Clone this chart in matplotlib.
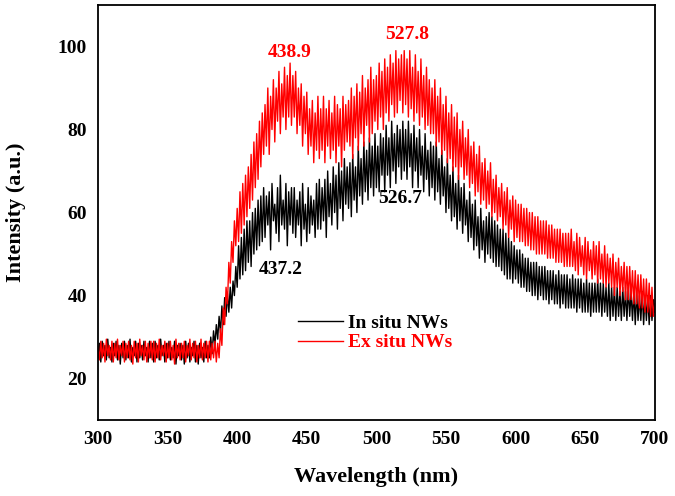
import numpy as np
import matplotlib
matplotlib.use("Agg")
import matplotlib.pyplot as plt

# wavelength grid (nm), 1 nm step
wavelength = np.arange(300, 701, 1)

# In situ NWs (black), 20 nm per row
in_situ = [
    25, 28.5, 24, 29, 25.5, 28, 24.5, 29.5, 25, 27.5, 24, 28.5, 25.5, 29, 24.5, 28, 23.5, 28.5, 25, 29,
    24.5, 28, 25, 29.5, 24, 27.5, 25.5, 29, 24, 28.5, 25, 28, 24.5, 29, 25.5, 27.5, 24, 29, 25, 28.5,
    24, 29, 25, 28, 24.5, 29.5, 25.5, 28, 24, 28.5, 25, 29, 24.5, 27.5, 25, 29, 23.5, 28, 25.5, 28.5,
    24.5, 28, 23.5, 29, 25, 28.5, 24, 27.5, 25.5, 29, 24, 28, 23.5, 28.5, 25, 27.5, 24, 29, 25, 28,
    25, 30, 26, 31.5, 28, 33, 29.5, 35, 31, 37.5, 33, 39.5, 35, 40.5, 36, 42, 37, 43.5, 40, 47,
    42, 52, 44, 54, 45, 56, 46, 58, 48, 58, 47, 60, 50, 61, 51, 63, 52, 64, 53, 66,
    54, 64, 57, 65, 51, 67, 58, 62, 55, 66, 53, 69, 57, 63, 56, 67, 52, 65, 57, 66,
    55, 66, 54, 63, 57, 65, 52, 67, 56, 62, 53, 66, 55, 64, 57, 63, 54, 67, 56, 68,
    56, 66, 58, 68, 54, 70, 59, 67, 57, 71, 60, 69, 56, 72, 61, 70, 58, 73, 62, 71,
    61, 72, 59, 74, 63, 71, 60, 76, 64, 73, 62, 77, 65, 75, 63, 78, 66, 76, 64, 79,
    66, 76, 65, 79, 69, 78, 65, 81, 69, 78, 66, 82, 70, 79, 67, 81, 71, 80, 68, 82,
    70, 80, 68, 82, 71, 79, 66, 81, 70, 78, 66, 80, 69, 76, 65, 79, 68, 75, 64, 77,
    66, 76, 63, 77, 65, 73, 62, 75, 64, 71, 60, 73, 61, 69, 58, 71, 59, 67, 56, 69,
    58, 66, 55, 67, 57, 63, 53, 65, 54, 62, 51, 63, 52, 59, 49, 61, 51, 58, 48, 59,
    50, 60, 49, 59, 48, 58, 47, 57, 47, 56, 46, 56, 45, 55, 44, 54, 44, 53, 43, 52,
    44, 51, 43, 51, 42, 50, 42, 49, 41, 49, 41, 48, 40, 48, 40, 48, 39, 47, 40, 47,
    39, 47, 39, 46, 38, 46, 39, 46, 38, 45, 38, 46, 37, 45, 38, 45, 37, 45, 37, 44,
    37, 45, 37, 44, 36, 44, 37, 44, 36, 43, 36, 44, 36, 43, 35, 43, 36, 43, 36, 44,
    36, 43, 35, 43, 36, 42, 35, 43, 34, 42, 35, 42, 34, 42, 35, 41, 34, 42, 35, 41,
    34, 42, 35, 41, 34, 41, 33, 41, 34, 40, 34, 41, 33, 40, 34, 40, 33, 40, 34, 39,
    36,
]

# Ex situ NWs (red)
ex_situ = [
    27.5, 24.5, 29, 25, 28.5, 24, 29.5, 25.5, 28, 24.5, 29, 24, 28.5, 25, 29.5, 24.5, 28, 25.5, 29, 24,
    28.5, 25, 29, 24.5, 28, 23.5, 29, 25, 28.5, 24, 29.5, 25.5, 28, 24.5, 29, 24, 28.5, 25, 29, 24.5,
    29, 24, 28.5, 25, 29.5, 24.5, 28, 25.5, 29, 24, 28.5, 25, 29, 24.5, 28, 23.5, 29.5, 25, 28.5, 24.5,
    28.5, 25, 29, 24, 28, 25.5, 29.5, 24.5, 28.5, 25, 29, 24, 28, 25, 29.5, 24.5, 28.5, 25, 29, 24,
    29, 24.5, 28.5, 25, 29, 24, 28.5, 25, 32, 28, 37, 33, 42, 38, 48, 43, 53, 48, 58, 52,
    61, 53, 65, 55, 67, 57, 69, 59, 71, 61, 74, 63, 77, 66, 79, 68, 82, 71, 84, 74,
    86, 76, 90, 74, 88, 80, 92, 77, 90, 82, 94, 79, 91, 83, 95, 80, 93, 83, 96, 81,
    93, 83, 94, 79, 90, 81, 91, 76, 88, 79, 89, 74, 85, 76, 87, 72, 84, 75, 88, 73,
    85, 75, 88, 72, 85, 76, 87, 73, 84, 75, 88, 72, 86, 76, 85, 71, 88, 75, 86, 77,
    87, 76, 90, 73, 88, 78, 91, 75, 89, 79, 93, 76, 90, 81, 92, 77, 95, 79, 92, 82,
    93, 80, 96, 83, 94, 80, 97, 84, 95, 82, 98, 86, 96, 83, 99, 84, 97, 87, 98, 84,
    99, 86, 97, 83, 99, 85, 95, 82, 98, 84, 94, 81, 97, 83, 93, 80, 95, 81, 92, 79,
    90, 79, 92, 76, 88, 77, 90, 74, 86, 75, 88, 72, 84, 73, 86, 70, 83, 71, 84, 68,
    80, 71, 82, 68, 78, 69, 80, 66, 76, 67, 77, 64, 74, 65, 76, 62, 72, 63, 73, 61,
    70, 62, 72, 59, 68, 60, 69, 58, 66, 59, 67, 56, 65, 57, 66, 54, 63, 56, 64, 53,
    63, 54, 62, 53, 62, 53, 61, 52, 61, 52, 60, 51, 60, 51, 59, 50, 59, 50, 58, 50,
    58, 50, 58, 49, 57, 49, 57, 49, 56, 48, 56, 48, 56, 48, 55, 47, 55, 47, 55, 47,
    56, 47, 53, 46, 55, 45, 54, 47, 52, 45, 54, 44, 53, 46, 51, 44, 53, 45, 52, 43,
    53, 44, 50, 43, 52, 42, 50, 43, 49, 42, 50, 40, 48, 42, 49, 40, 47, 41, 48, 39,
    47, 39, 47, 39, 46, 38, 46, 38, 45, 37, 45, 37, 44, 36, 44, 36, 43, 35, 42, 35,
    38,
]

peak_labels = ["438.9", "527.8", "526.7", "437.2"]
peak_pos = [(438, 98.6), (522, 103), (517, 63.4), (431, 46.3)]
peak_colors = ["red", "red", "black", "black"]

plt.rcParams["font.family"] = ["Liberation Serif", "DejaVu Serif"]
plt.rcParams["font.weight"] = "bold"

fig = plt.figure(figsize=(6.75, 4.96), dpi=100)
ax = fig.add_axes([0.1452, 0.153, 0.8248, 0.837])

ax.plot(wavelength, in_situ, color="black", lw=1.0, label="In situ NWs")
ax.plot(wavelength, ex_situ, color="red", lw=1.0, label="Ex situ NWs")

for txt, (x, y), c in zip(peak_labels, peak_pos, peak_colors):
    ax.text(x, y, txt, color=c, fontsize=14, fontweight="bold",
            ha="center", va="center")

ax.set_xlim(300, 700)
ax.set_ylim(10, 110)
ax.set_xticks(range(300, 701, 50))
ax.set_yticks(range(20, 101, 20))
ax.tick_params(length=0, labelsize=14, pad=8)
for lab in ax.get_xticklabels() + ax.get_yticklabels():
    lab.set_fontweight("bold")
for sp in ax.spines.values():
    sp.set_linewidth(1.3)

ax.set_xlabel("Wavelength (nm)", fontsize=16, fontweight="bold")
ax.set_ylabel("Intensity (a.u.)", fontsize=16, fontweight="bold")
ax.xaxis.set_label_coords(0.5, -0.113)
ax.yaxis.set_label_coords(-0.13, 0.5)

leg = ax.legend(loc="upper left", bbox_to_anchor=(0.359, 0.255), frameon=False,
                fontsize=14, handlelength=2.3, labelcolor="linecolor",
                borderaxespad=0, borderpad=0, labelspacing=0.1, handletextpad=0.3)
for t in leg.get_texts():
    t.set_fontweight("bold")
    
fig.savefig("out.png", dpi=100)
